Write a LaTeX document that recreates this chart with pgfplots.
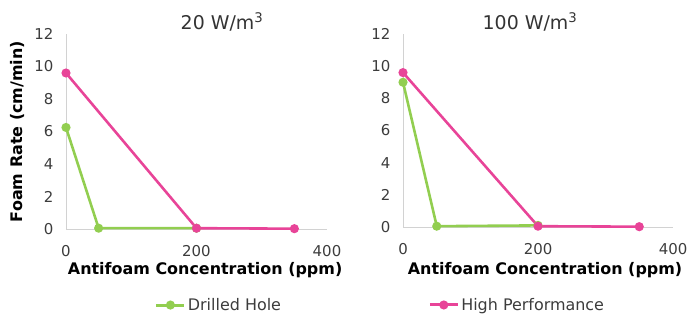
\documentclass[border=0pt]{standalone}
\usepackage{pgfplots}
\pgfplotsset{compat=1.18}
\usepackage{fontspec}
\setmainfont{DejaVu Sans}
\definecolor{dgreen}{RGB}{146,206,80}
\definecolor{hpink}{RGB}{232,68,152}
\definecolor{tickgray}{RGB}{60,60,60}
\definecolor{axgray}{RGB}{210,210,210}
\pgfplotstableread{
x y
0 6.25
50 0.05
200 0.05
}\dhA
\pgfplotstableread{
x y
0 9.6
200 0.05
350 0.02
}\hpA
\pgfplotstableread{
x y
0 9.0
50 0.05
200 0.1
}\dhB
\pgfplotstableread{
x y
0 9.6
200 0.05
350 0.02
}\hpB
\pgfplotsset{
  myax/.style={
    scale only axis,
    xmin=0, xmax=400, ymin=0, ymax=12,
    axis x line=bottom, axis y line=left,
    axis line style={draw=axgray, line width=1pt, -},
    major tick length=0pt,
    xtick={0,200,400}, ytick={0,2,...,12},
    /pgf/number format/assume math mode=true,
    ticklabel style={font=\fontsize{15}{17}\selectfont, text=tickgray},
    xticklabel style={yshift=-13bp},
    yticklabel style={xshift=-9bp},
    clip=false,
    legend style={draw=none, fill=none, font=\fontsize{16}{18}\selectfont, text=tickgray, inner sep=0pt, legend cell align=left},
    legend image code/.code={\draw[##1, line width=3pt] (0bp,0bp) -- (28bp,0bp); \fill[##1] (14bp,0bp) circle (3.2bp);},
    xlabel style={font=\bfseries\fontsize{16}{18}\selectfont, text=black},
    ylabel style={font=\bfseries\fontsize{16}{18}\selectfont, text=black},
  },
  gline/.style={dgreen, line width=2.6pt, mark=*, mark size=3.2bp, mark options={fill=dgreen, draw=dgreen}},
  pline/.style={hpink, line width=2.6pt, mark=*, mark size=3.2bp, mark options={fill=hpink, draw=hpink}},
}
\begin{document}
\begin{tikzpicture}[x=1bp,y=1bp]
\useasboundingbox (0,0) rectangle (688,314);
\begin{axis}[myax,
  at={(66bp,85bp)}, anchor=south west, width=261bp, height=195bp,
  xlabel={Antifoam Concentration (ppm)},
  xlabel style={at={(rel axis cs:0.533,-0.21)}, anchor=center},
  ylabel={Foam Rate (cm/min)},
  ylabel style={at={(rel axis cs:-0.184,0.5)}, anchor=center, rotate=0},
  legend style={at={(rel axis cs:0.34,-0.39)}, anchor=west},
]
\addplot[gline] table[x=x,y=y] {\dhA};
\addlegendentry{Drilled Hole}
\addplot[pline, forget plot] table[x=x,y=y] {\hpA};
\end{axis}
\begin{axis}[myax,
  at={(403bp,87bp)}, anchor=south west, width=270bp, height=193bp,
  xlabel={Antifoam Concentration (ppm)},
  xlabel style={at={(rel axis cs:0.526,-0.223)}, anchor=center},
  legend style={at={(rel axis cs:0.093,-0.404)}, anchor=west},
]
\addplot[gline, forget plot] table[x=x,y=y] {\dhB};
\addplot[pline] table[x=x,y=y] {\hpB};
\addlegendentry{High Performance}
\end{axis}
\node[font=\fontsize{19}{22}\selectfont, text=black!80] at (222bp,292bp) {20 W/m\textsuperscript{3}};
\node[font=\fontsize{19}{22}\selectfont, text=black!80] at (530bp,292bp) {100 W/m\textsuperscript{3}};
\end{tikzpicture}
\end{document}
